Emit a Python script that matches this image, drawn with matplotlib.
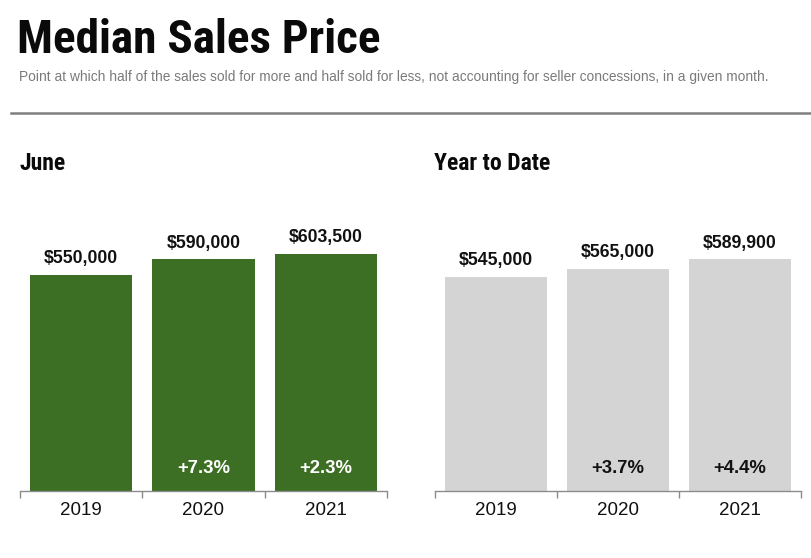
import matplotlib
matplotlib.use("Agg")
import matplotlib.pyplot as plt
from matplotlib.lines import Line2D

years = ["2019", "2020", "2021"]
june_price = [550000, 590000, 603500]
ytd_price = [545000, 565000, 589900]
june_change = ["", "+7.3%", "+2.3%"]
ytd_change = ["", "+3.7%", "+4.4%"]

plt.rcParams['font.family'] = ['Liberation Sans', 'DejaVu Sans']
narrow = ['Roboto Condensed', 'DejaVu Sans']

fig = plt.figure(figsize=(8.12, 5.58), dpi=100)
W, H = 812.0, 558.0

fig.text(17 / W, 1 - 40 / H, "Median Sales Price", family=narrow, weight='bold',
         fontsize=34, va='center', ha='left', color='#0a0a0a')
fig.text(19 / W, 1 - 77 / H,
         "Point at which half of the sales sold for more and half sold for less, "
         "not accounting for seller concessions, in a given month.",
         fontsize=9.9, color='#7a7a7a', va='center', ha='left')
fig.add_artist(Line2D([11 / W, 1.0], [1 - 113 / H, 1 - 113 / H], color='#7f7f7f', lw=1.8))


def panel(left, right, title, values, changes, color, chg_color):
    ax = fig.add_axes([left / W, 67 / H, (right - left) / W, 291 / H])
    fig.text(left / W - 1 / W, 1 - 163 / H, title, family=narrow, weight='bold',
             fontsize=17, va='center', ha='left', color='#0a0a0a')
    x = range(len(years))
    ax.bar(x, values, width=0.835, color=color)
    ax.set_xlim(-0.5, 2.5)
    ax.set_ylim(0, 741000)
    for s in ['top', 'right', 'left']:
        ax.spines[s].set_visible(False)
    ax.spines['bottom'].set_color('#8c8c8c')
    ax.spines['bottom'].set_linewidth(1.0)
    ax.set_yticks([])
    ax.set_xticks([0, 1, 2])
    ax.set_xticklabels(years, fontsize=13.5, color='#111111')
    ax.tick_params(axis='x', which='major', length=0, pad=8)
    ax.set_xticks([-0.5, 0.5, 1.5, 2.5], minor=True)
    ax.tick_params(axis='x', which='minor', length=5, color='#8c8c8c', width=1.0)
    for i, v in enumerate(values):
        ax.annotate("${:,}".format(v), xy=(i, v), xytext=(0, 5.5), textcoords='offset points',
                    ha='center', va='bottom', fontsize=12.7, weight='bold', color='#111111')
        if changes[i]:
            ax.annotate(changes[i], xy=(i, 0), xytext=(0, 16), textcoords='offset points',
                        ha='center', va='center', fontsize=13.3, weight='bold', color=chg_color)
    return ax


panel(20, 387, "June", june_price, june_change, '#3c6e23', 'white')
panel(435, 801, "Year to Date", ytd_price, ytd_change, '#d4d4d4', '#111111')

fig.savefig("out.png", dpi=100)
